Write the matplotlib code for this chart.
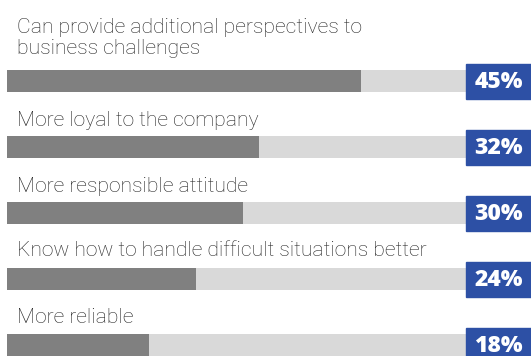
import matplotlib
matplotlib.use("Agg")
import matplotlib.pyplot as plt
from matplotlib.patches import Rectangle

categories = [
    "Can provide additional perspectives to\nbusiness challenges",
    "More loyal to the company",
    "More responsible attitude",
    "Know how to handle difficult situations better",
    "More reliable",
]
values = [45, 32, 30, 24, 18]
value_labels = ["45%", "32%", "30%", "24%", "18%"]

W, H = 531, 356
fig = plt.figure(figsize=(W / 100, H / 100), dpi=100)
ax = fig.add_axes([0, 0, 1, 1])
ax.set_axis_off()

# data units: 1% = 7.87 px, bars start 7 px from the left
px_per_pct = 7.87
x0_px = 7
ax.set_xlim(-x0_px / px_per_pct, (W - x0_px) / px_per_pct)
row_px = 66
first_px = 81
ax.set_ylim((H - first_px) / row_px, -first_px / row_px)

track_end = (W - x0_px) / px_per_pct
bar_h = 22 / row_px
box_left = (466 - x0_px) / px_per_pct
box_h = 35 / row_px
# gap (px) between each label's last baseline and the top of its bar
label_gap_px = [16, 10, 10, 12, 11]

for i, (cat, v, lab) in enumerate(zip(categories, values, value_labels)):
    ax.barh(i, track_end, height=bar_h, left=0, color="#d9d9d9", zorder=1)
    ax.barh(i, v, height=bar_h, left=0, color="#808080", zorder=2)
    ax.add_patch(Rectangle((box_left, i - box_h / 2), track_end - box_left + 1, box_h,
                           color="#2d50a5", zorder=3))
    ax.text((box_left + track_end) / 2, i + 0.015, lab, ha="center", va="center",
            color="white", fontsize=16.5, fontweight=800, family="Open Sans", zorder=4)
    base = i - bar_h / 2 - label_gap_px[i] / row_px
    ax.text(10 / px_per_pct, base, cat, ha="left", va="baseline",
            color="#262626", fontsize=15.2, fontweight="light", family="Roboto",
            linespacing=1.12)

fig.savefig("out.png", dpi=100)
